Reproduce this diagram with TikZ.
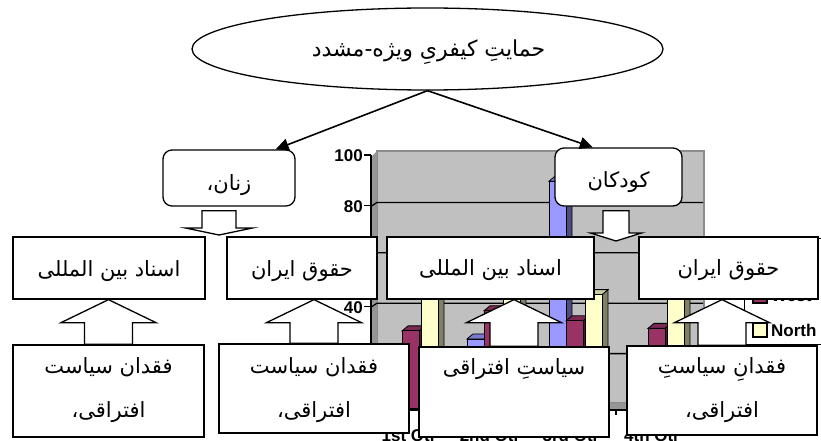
\documentclass[tikz,border=0pt]{standalone}
\usepackage{fontspec}
\setmainfont{Liberation Sans}
\newfontfamily\fa[Script=Arabic]{DejaVu Sans}
\TeXXeTstate=1
\usetikzlibrary{shapes.geometric,arrows.meta,calc}
\definecolor{wallgray}{HTML}{C0C0C0}
\definecolor{walledge}{HTML}{8C8C8C}
\definecolor{sidewall}{HTML}{969696}
\definecolor{eastF}{HTML}{9999FF}
\definecolor{eastS}{HTML}{4D4D80}
\definecolor{eastT}{HTML}{7A7ACC}
\definecolor{westF}{HTML}{993366}
\definecolor{westS}{HTML}{4D1A33}
\definecolor{westT}{HTML}{7A2952}
\definecolor{northF}{HTML}{FFFFCC}
\definecolor{northS}{HTML}{808066}
\definecolor{northT}{HTML}{CCCCA3}
\newcommand\drawbar[3]{%
  \pgfmathsetmacro\yt{408-2.52*#2}
  \filldraw[fill=#3S, line width=0.8pt] (#1+17,408) -- (#1+23,403) -- (#1+23,\yt-5) -- (#1+17,\yt) -- cycle;
  \filldraw[fill=#3T, line width=0.8pt] (#1,\yt) -- (#1+6,\yt-5) -- (#1+23,\yt-5) -- (#1+17,\yt) -- cycle;
  \filldraw[fill=#3F, line width=0.8pt] (#1,\yt) rectangle (#1+17,408);
}
\tikzset{
  fa/.style={font=\fa\fontsize{21}{24}\selectfont, inner sep=1pt},
  fabig/.style={font=\fa\fontsize{22}{26}\selectfont, inner sep=1pt},
  chartlbl/.style={font=\fontsize{17}{20}\selectfont\bfseries, inner sep=0pt},
  plainbox/.style={draw, line width=1.3pt, fill=white, inner sep=0pt},
  roundbox/.style={plainbox, rounded corners=9pt},
  blockarrow/.style={draw, line width=1.3pt, fill=white, line join=miter},
  link/.style={line width=1.6pt, -{Triangle[length=13pt,width=12pt]}},
  grid/.style={line width=1.3pt},
}
\begin{document}
\begin{tikzpicture}[x=1pt,y=-1pt]
\useasboundingbox (0,0) rectangle (821,441);
\clip (0,0) rectangle (821,441);
\fill[white] (0,0) rectangle (821,441);
% ---------- background chart ----------
\filldraw[fill=wallgray, draw=walledge, line width=2.5pt] (377,151) rectangle (704,403);
\fill[sidewall] (371,157) -- (377,151) -- (377,403) -- (371,409) -- cycle;
\fill[sidewall] (371,409) -- (377,403) -- (704,403) -- (698,409) -- cycle;
\draw[grid] (371,410) -- (698,410);
\foreach \v in {20,40,60,80} {
  \pgfmathsetmacro\yv{404-2.52*\v}
  \draw[grid] (371,\yv+4) -- (377,\yv) -- (703,\yv);
}
\draw[grid] (371,155) -- (371,410);
\foreach \v in {0,20,...,100} {
  \pgfmathsetmacro\yv{404-2.52*\v}
  \draw[grid] (364,\yv+3) -- (371,\yv+3);
}
\foreach \v in {40,80,100} {
  \pgfmathsetmacro\yv{404-2.52*\v}
  \node[chartlbl, anchor=east] (ylab\v) at (363,\yv+4) {\v};
}
\foreach \x in {452,534,616,698} \draw[grid] (\x,410) -- (\x,415);
\foreach \v [count=\i from 0] in {20.4,27.4,90,20.4} {\drawbar{385+82*\i}{\v}{east}}
\foreach \v [count=\i from 0] in {30.6,38.6,34.6,31.6} {\drawbar{402+82*\i}{\v}{west}}
\foreach \v [count=\i from 0] in {45.9,46.9,45,43.9} {\drawbar{421+82*\i}{\v}{north}}
\foreach \t [count=\i from 0] in {1st Qtr,2nd Qtr,3rd Qtr,4th Qtr} {
  \node[chartlbl, anchor=base] (cat\i) at (409+81*\i,441) {\t};
}
% legend
\draw[line width=0.8pt, fill=white] (744,238) rectangle (840,344);
\filldraw[fill=westF, line width=1.2pt] (753,289) rectangle (767,303);
\filldraw[fill=northF, line width=1.2pt] (753,323) rectangle (767,337);
\node[chartlbl, anchor=west] (legW) at (771,296) {West};
\node[chartlbl, anchor=west] (legN) at (771,330) {North};
% ---------- diagram ----------
\node[ellipse, draw, line width=1.3pt, fill=white, minimum width=471pt, minimum height=82pt, inner sep=0pt] (top) at (427.5,49) {};
\node[fabig] (topt) at ($(top.center)+(1,3)$) {\beginR حمایتِ کیفریِ ویژه-مشدد\endR};
\node[roundbox, minimum width=132pt, minimum height=56pt] (zanan) at (229,178) {};
\node[fa] (zanant) at ($(zanan.center)+(0,7)$) {\beginR زنان،\endR};
\node[roundbox, minimum width=127pt, minimum height=58pt] (kodakan) at (618.5,177) {};
\node[fa] (kodakant) at ($(kodakan.center)+(0,5)$) {\beginR کودکان\endR};
\coordinate (zt1) at ($(zanan.north west)!0.85!(zanan.north east)$);
\coordinate (kt1) at ($(kodakan.north west)!0.3!(kodakan.north east)$);
\draw[link] (top.south) -- (zt1);
\draw[link] (top.south) -- (kt1);
% row 2
\node[plainbox, minimum width=192pt, minimum height=62pt] (A) at (109,268) {};
\node[fa] (At) at ($(A.center)+(0,3)$) {\beginR اسناد بین المللی\endR};
\node[plainbox, minimum width=150pt, minimum height=62pt] (B) at (302,268) {};
\node[fa] (Bt) at ($(B.center)+(0,3)$) {\beginR حقوق ایران\endR};
\node[plainbox, minimum width=207pt, minimum height=62pt] (C) at (490.5,268) {};
\node[fa] (Ct) at ($(C.center)+(0,2)$) {\beginR اسناد بین المللی\endR};
\node[plainbox, minimum width=179pt, minimum height=62pt] (D) at (728.5,268) {};
\node[fa] (Dt) at ($(D.center)+(0,2)$) {\beginR حقوق ایران\endR};
% row 3
\node[plainbox, minimum width=191pt, minimum height=92pt] (E) at (108.5,391) {};
\node[fa] (Et1) at ($(E.north)+(0,23)$) {\beginR فقدان سیاست\endR};
\node[fa] (Et2) at ($(E.north)+(0,68)$) {\beginR افتراقی،\endR};
\node[plainbox, minimum width=190pt, minimum height=89pt] (F) at (314,388.5) {};
\node[fa] (Ft1) at ($(F.north)+(0,24)$) {\beginR فقدان سیاست\endR};
\node[fa] (Ft2) at ($(F.north)+(0,69)$) {\beginR افتراقی،\endR};
\node[plainbox, minimum width=190pt, minimum height=90pt] (G) at (514,392) {};
\node[fa] (Gt) at ($(G.north)+(0,23)$) {\beginR سیاستِ افتراقی\endR};
\node[plainbox, minimum width=190pt, minimum height=89pt] (H) at (722,390.5) {};
\node[fa] (Ht1) at ($(H.north)+(0,24)$) {\beginR فقدانِ سیاستِ\endR};
\node[fa] (Ht2) at ($(H.north)+(0,67)$) {\beginR افتراقی،\endR};
% hollow up arrows
\foreach \lo/\up in {E/A,F/B,G/C,H/D} {
  \draw[blockarrow] let \p1=(\lo.north), \p2=(\up.south) in
    (\x1-24pt,\y1) -- (\x1-24pt,\y2-23pt) -- (\x1-47.5pt,\y2-23pt) -- (\x1,\y2)
    -- (\x1+47.5pt,\y2-23pt) -- (\x1+24pt,\y2-23pt) -- (\x1+24pt,\y1) -- cycle;
}
% hollow down arrows
\coordinate (zt) at (219,235);
\coordinate (kt) at (616,241);
\draw[blockarrow] let \p1=(zanan.south), \p2=(zt) in
  (\x2-17pt,\y1-4pt) -- (\x2-17pt,\y2+7pt) -- (\x2-33.5pt,\y2+7pt) -- (\x2,\y2)
  -- (\x2+33.5pt,\y2+7pt) -- (\x2+17pt,\y2+7pt) -- (\x2+17pt,\y1-4pt) -- cycle;
\draw[blockarrow] let \p1=(kodakan.south), \p2=(kt) in
  (\x2-13pt,\y1-4pt) -- (\x2-13pt,\y2+8pt) -- (\x2-25.5pt,\y2+8pt) -- (\x2,\y2)
  -- (\x2+25.5pt,\y2+8pt) -- (\x2+13pt,\y2+8pt) -- (\x2+13pt,\y1-4pt) -- cycle;
\end{tikzpicture}
\end{document}
